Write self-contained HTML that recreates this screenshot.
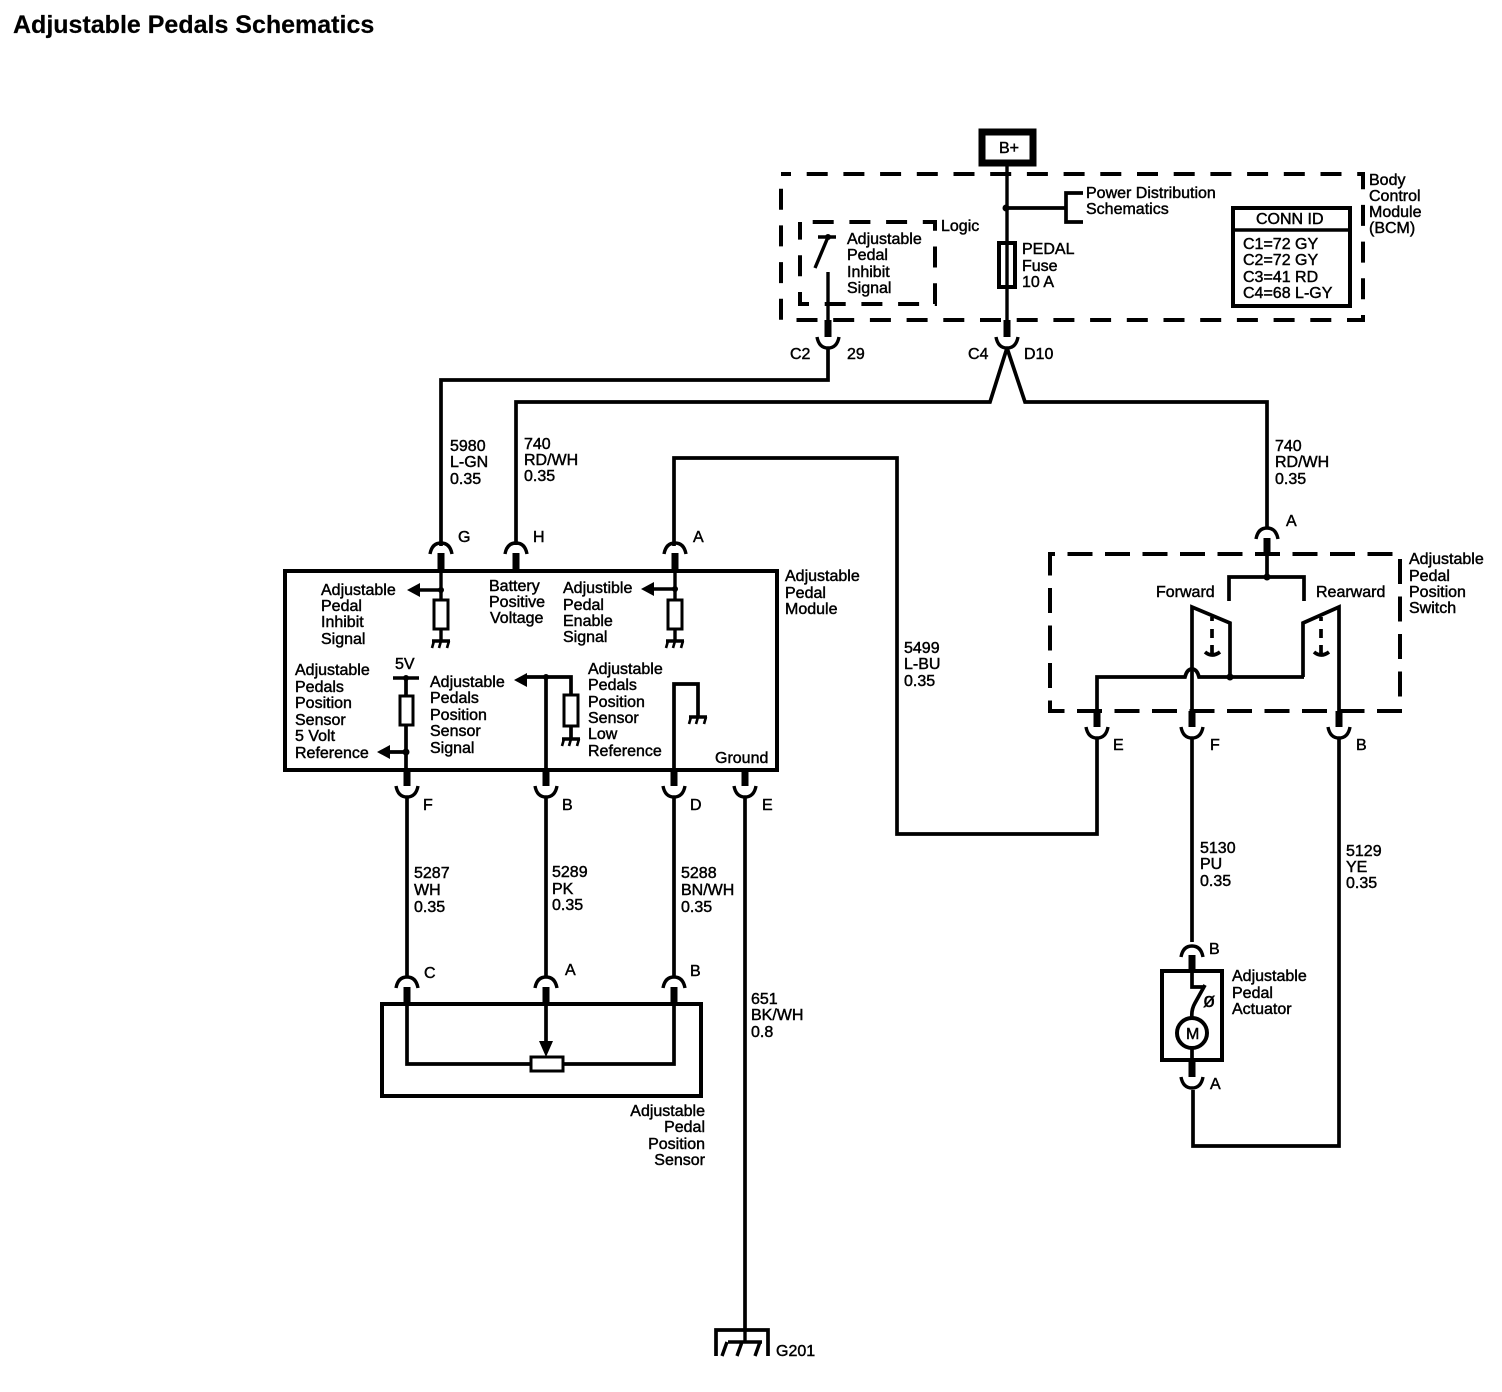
<!DOCTYPE html>
<html><head><meta charset="utf-8"><style>
html,body{margin:0;padding:0;background:#fff}
svg{display:block}
text{font-family:"Liberation Sans",sans-serif;font-size:16px;fill:#000;stroke:#000;stroke-width:.45}
.t{font-size:25px;font-weight:bold;stroke-width:.2}
.w{fill:none;stroke:#000;stroke-width:3.7}
.n{fill:none;stroke:#000;stroke-width:3.4}
.d{fill:none;stroke:#000;stroke-width:4;stroke-dasharray:21 15.7;stroke-dashoffset:11}
.d2{fill:none;stroke:#000;stroke-width:4;stroke-dasharray:21 15.7;stroke-dashoffset:24}
.d3{fill:none;stroke:#000;stroke-width:4;stroke-dasharray:25 12.5;stroke-dashoffset:20}
.s{stroke:#000;stroke-width:7;fill:none}
.e{text-anchor:end}
</style></head><body>
<svg width="1502" height="1392" viewBox="0 0 1502 1392" xmlns="http://www.w3.org/2000/svg">
<defs>
<path id="cup" d="M-11 -8 Q-9 3 0 3 Q9 3 11 -8" class="n"/>
<path id="dome" d="M-11 8 Q-9 -3 0 -3 Q9 -3 11 8" class="n"/>
<g id="gnd"><path d="M-9 0H9" class="n" stroke-width="3"/><path d="M-7 0L-9 7M0 0L-2 7M8 0L6 7" class="n" style="stroke-width:2.6"/></g>
</defs>

<text x="13" y="33" class="t">Adjustable Pedals Schematics</text>

<!-- B+ -->
<rect x="982" y="132" width="51" height="31" fill="#fff" stroke="#000" stroke-width="7"/>
<text x="999" y="153">B+</text>
<path d="M1007 165V325" class="n"/>

<!-- BCM -->
<rect x="781" y="174" width="582" height="146" class="d"/>
<circle cx="1006" cy="208" r="3.5"/>
<path d="M1006 208H1066M1083 193H1066V222H1083" class="w"/>
<text x="1086" y="198">Power Distribution</text>
<text x="1086" y="214">Schematics</text>
<rect x="999" y="243" width="16" height="44" fill="#fff" stroke="#000" stroke-width="4"/>
<path d="M1007 243V287" class="n"/>
<text x="1022" y="254">PEDAL</text>
<text x="1022" y="271">Fuse</text>
<text x="1022" y="287">10 A</text>
<rect x="1233" y="208" width="117" height="98" fill="#fff" stroke="#000" stroke-width="4"/>
<path d="M1233 230H1350" class="n"/>
<text x="1256" y="224">CONN ID</text>
<text x="1243" y="249">C1=72 GY</text>
<text x="1243" y="265">C2=72 GY</text>
<text x="1243" y="282">C3=41 RD</text>
<text x="1243" y="298">C4=68 L-GY</text>
<text x="1369" y="185">Body</text>
<text x="1369" y="201">Control</text>
<text x="1369" y="217">Module</text>
<text x="1369" y="233">(BCM)</text>

<!-- Logic -->
<rect x="800" y="222" width="135" height="82" class="d2"/>
<text x="941" y="231">Logic</text>
<text x="847" y="244">Adjustable</text>
<text x="847" y="260">Pedal</text>
<text x="847" y="277">Inhibit</text>
<text x="847" y="293">Signal</text>
<path d="M818 237H836M828 237L815 268M828 272V322" class="n"/>
<circle cx="828" cy="237" r="3"/>

<!-- top connectors -->
<path d="M828 320V337M1007 320V337" class="s"/>
<use href="#cup" x="828" y="345"/>
<use href="#cup" x="1007" y="345"/>
<text x="790" y="359">C2</text><text x="847" y="359">29</text>
<text x="968" y="359">C4</text><text x="1024" y="359">D10</text>

<path d="M828 348V380H441V546" class="w"/>
<path d="M1007 348L990 402H516V545" class="w"/>
<path d="M1007 348L1025 402H1267V528" class="w"/>
<path d="M674 546V458H897V834H1097V737" class="w"/>

<text x="450" y="451">5980</text><text x="450" y="467">L-GN</text><text x="450" y="484">0.35</text>
<text x="524" y="449">740</text><text x="524" y="465">RD/WH</text><text x="524" y="481">0.35</text>
<text x="1275" y="451">740</text><text x="1275" y="467">RD/WH</text><text x="1275" y="484">0.35</text>
<text x="904" y="653">5499</text><text x="904" y="669">L-BU</text><text x="904" y="686">0.35</text>

<!-- Module -->
<rect x="285" y="571" width="492" height="199" fill="none" stroke="#000" stroke-width="4"/>
<use href="#dome" x="441" y="546"/><use href="#dome" x="516" y="546"/><use href="#dome" x="675" y="546"/>
<path d="M441 553V571M516 553V571M675 553V571M1267 538V555" class="s"/>
<text x="458" y="542">G</text><text x="533" y="542">H</text><text x="693" y="542">A</text>
<text x="785" y="581">Adjustable</text><text x="785" y="598">Pedal</text><text x="785" y="614">Module</text>

<text x="321" y="595">Adjustable</text><text x="321" y="611">Pedal</text><text x="321" y="627">Inhibit</text><text x="321" y="644">Signal</text>
<text x="489" y="591">Battery</text><text x="489" y="607">Positive</text><text x="490" y="623">Voltage</text>
<text x="563" y="593">Adjustible</text><text x="563" y="610">Pedal</text><text x="563" y="626">Enable</text><text x="563" y="642">Signal</text>
<text x="295" y="675">Adjustable</text><text x="295" y="692">Pedals</text><text x="295" y="708">Position</text><text x="295" y="725">Sensor</text><text x="295" y="741">5 Volt</text><text x="295" y="758">Reference</text>
<text x="395" y="669">5V</text>
<text x="430" y="687">Adjustable</text><text x="430" y="703">Pedals</text><text x="430" y="720">Position</text><text x="430" y="736">Sensor</text><text x="430" y="753">Signal</text>
<text x="588" y="674">Adjustable</text><text x="588" y="690">Pedals</text><text x="588" y="707">Position</text><text x="588" y="723">Sensor</text><text x="588" y="739">Low</text><text x="588" y="756">Reference</text>
<text x="715" y="763">Ground</text>

<!-- inhibit -->
<path d="M441 571V600M441 629V640M441 590H416" class="n"/>
<circle cx="441" cy="590" r="3"/>
<path d="M407 590L420 583V597Z"/>
<rect x="434" y="600" width="14" height="29" fill="#fff" stroke="#000" stroke-width="3"/>
<use href="#gnd" x="441" y="641"/>
<!-- enable -->
<path d="M675 571V600M675 629V640M675 589H650" class="n"/>
<circle cx="675" cy="589" r="3"/>
<path d="M641 589L654 582V596Z"/>
<rect x="668" y="600" width="14" height="29" fill="#fff" stroke="#000" stroke-width="3"/>
<use href="#gnd" x="675" y="641"/>
<!-- 5V -->
<path d="M393 678H419" class="n"/>
<path d="M406 678V697M406 726V770M406 752H388" class="w"/>
<circle cx="406" cy="678" r="3"/><circle cx="406" cy="752" r="3.5"/>
<path d="M377 752L390 745V759Z"/>
<rect x="400" y="696" width="13" height="29" fill="#fff" stroke="#000" stroke-width="3"/>
<!-- signal -->
<path d="M546 770V677M525 677H571V696M571 726V738" class="w"/>
<circle cx="546" cy="677" r="3"/>
<path d="M514 680L527 673V687Z"/>
<rect x="564" y="695" width="14" height="31" fill="#fff" stroke="#000" stroke-width="3"/>
<use href="#gnd" x="571" y="739"/>
<!-- low ref -->
<path d="M674 770V684H698V716" class="w"/>
<use href="#gnd" x="698" y="717"/>

<path d="M407 770V786M546 770V786M674 770V786M745 770V786" class="s"/>
<use href="#cup" x="407" y="794"/><use href="#cup" x="546" y="794"/><use href="#cup" x="674" y="794"/><use href="#cup" x="745" y="794"/>
<text x="423" y="810">F</text><text x="562" y="810">B</text><text x="690" y="810">D</text><text x="762" y="810">E</text>

<path d="M407 797V977M546 797V977M674 797V977" class="w"/>
<path d="M745 797V1329" class="w"/>

<text x="414" y="878">5287</text><text x="414" y="895">WH</text><text x="414" y="912">0.35</text>
<text x="552" y="877">5289</text><text x="552" y="894">PK</text><text x="552" y="910">0.35</text>
<text x="681" y="878">5288</text><text x="681" y="895">BN/WH</text><text x="681" y="912">0.35</text>
<text x="751" y="1004">651</text><text x="751" y="1020">BK/WH</text><text x="751" y="1037">0.8</text>

<!-- Sensor -->
<rect x="382" y="1004" width="319" height="92" fill="none" stroke="#000" stroke-width="4"/>
<use href="#dome" x="407" y="980"/><use href="#dome" x="546" y="980"/><use href="#dome" x="674" y="980"/>
<path d="M407 987V1004M546 987V1004M674 987V1004" class="s"/>
<text x="424" y="978">C</text><text x="565" y="975">A</text><text x="690" y="976">B</text>
<path d="M407 1004V1064H530M563 1064H674V1004M546 1004V1042" class="w"/>
<path d="M539 1041H553L546 1057Z"/>
<rect x="531" y="1057" width="32" height="14" fill="#fff" stroke="#000" stroke-width="3"/>
<text x="705" y="1116" class="e">Adjustable</text><text x="705" y="1132" class="e">Pedal</text><text x="705" y="1149" class="e">Position</text><text x="705" y="1165" class="e">Sensor</text>

<!-- Ground G201 -->
<path d="M716 1356V1330H768V1356" class="w"/>
<path d="M745 1330V1343M728 1342H762M727 1342L722 1356M742 1342L737 1356M760 1342L755 1356" class="n"/>
<text x="776" y="1356">G201</text>

<!-- Switch -->
<use href="#dome" x="1267" y="531"/>
<text x="1286" y="526">A</text>
<rect x="1050" y="554" width="350" height="157" class="d3"/>
<path d="M1267 555V577M1229 601V577H1304V601" class="w"/>
<circle cx="1267" cy="577" r="3.5"/>
<text x="1156" y="597">Forward</text><text x="1316" y="597">Rearward</text>
<text x="1409" y="564">Adjustable</text><text x="1409" y="581">Pedal</text><text x="1409" y="597">Position</text><text x="1409" y="613">Switch</text>
<path d="M1192 711V607L1230 623V677" class="w"/>
<path d="M1339 711V607L1303 623V677" class="w"/>
<path d="M1097 711V677H1185Q1187 669 1192 669Q1197 669 1199 677H1304" class="w"/>
<circle cx="1230" cy="677" r="3.5"/>
<path d="M1212 617V621M1212 629V638M1212 645V654M1205 652Q1212 658 1220 652M1321 617V621M1321 629V638M1321 645V654M1314 652Q1321 658 1329 652" class="w"/>
<path d="M1097 711V727M1192 711V727M1339 711V727" class="s"/>
<use href="#cup" x="1097" y="735"/><use href="#cup" x="1192" y="735"/><use href="#cup" x="1339" y="735"/>
<text x="1113" y="750">E</text><text x="1210" y="750">F</text><text x="1356" y="750">B</text>
<path d="M1192 738V942M1339 738V1146H1193V1090" class="w"/>
<text x="1200" y="853">5130</text><text x="1200" y="869">PU</text><text x="1200" y="886">0.35</text>
<text x="1346" y="856">5129</text><text x="1346" y="872">YE</text><text x="1346" y="888">0.35</text>

<!-- Actuator -->
<use href="#dome" x="1192" y="949"/>
<text x="1209" y="954">B</text>
<rect x="1162" y="971" width="60" height="89" fill="none" stroke="#000" stroke-width="4"/>
<path d="M1192 955V971" class="s"/>
<path d="M1192 971V987H1204M1205 985L1195 1003Q1191 1010 1192 1018M1192 1048V1060" class="w"/>
<circle cx="1192" cy="1033" r="15" fill="#fff" stroke="#000" stroke-width="4"/>
<text x="1186" y="1039">M</text>
<text x="1203" y="1007" style="font-size:20px">ø</text>
<path d="M1192 1060V1077" class="s"/>
<use href="#cup" x="1192" y="1085"/>
<text x="1210" y="1089">A</text>
<text x="1232" y="981">Adjustable</text><text x="1232" y="998">Pedal</text><text x="1232" y="1014">Actuator</text>
</svg>
</body></html>
